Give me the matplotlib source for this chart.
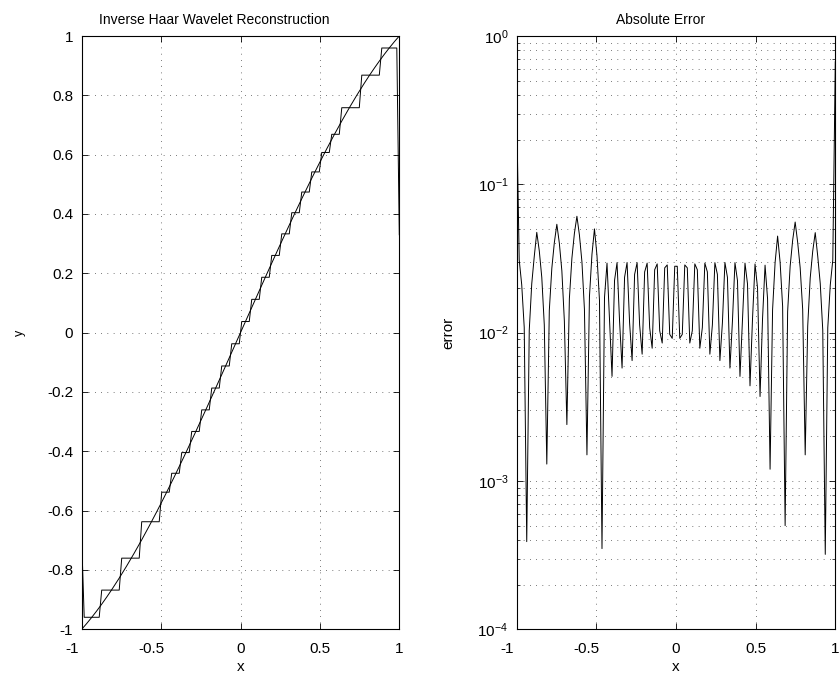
import numpy as np
import matplotlib
matplotlib.use("Agg")
import matplotlib.pyplot as plt
from matplotlib.transforms import ScaledTranslation

# ---------------- data ----------------
n_samples = 128
# original function value at the 64 positive sample points (odd function; negative half mirrored)
true_curve_pos = [0.00945, 0.02834, 0.04723, 0.06611, 0.08497, 0.10381, 0.12262, 0.14140,
                  0.16015, 0.17886, 0.19752, 0.21614, 0.23469, 0.25320, 0.27163, 0.29000,
                  0.30830, 0.32652, 0.34466, 0.36271, 0.38067, 0.39854, 0.41630, 0.43396,
                  0.45151, 0.46894, 0.48625, 0.50344, 0.52050, 0.53743, 0.55422, 0.57086,
                  0.58736, 0.60370, 0.61989, 0.63592, 0.65178, 0.66747, 0.68298, 0.69832,
                  0.71347, 0.72842, 0.74319, 0.75775, 0.77212, 0.78627, 0.80021, 0.81393,
                  0.82743, 0.84070, 0.85373, 0.86654, 0.87910, 0.89141, 0.90348, 0.91528,
                  0.92684, 0.93811, 0.94913, 0.95987, 0.97034, 0.98052, 0.99041, 1.00000]
# Haar reconstruction: block lengths (in samples) and block levels
block_sizes = [8, 8, 8, 8] + [4] * 18 + [8, 8, 8]
block_levels = [-0.95948, -0.86784, -0.76015, -0.63742,
                -0.53778, -0.47401, -0.40431, -0.33300, -0.26036, -0.18671,
                -0.11232, -0.03749, 0.03749, 0.11232, 0.18671, 0.26036,
                0.33300, 0.40431, 0.47401, 0.54181, 0.60741, 0.66867,
                0.75825, 0.86804, 0.95955]
end_values = [-0.70, 0.33]          # reconstruction at x=-1 and x=1 (boundary effect)

left_yticks = [-1, -0.8, -0.6, -0.4, -0.2, 0, 0.2, 0.4, 0.6, 0.8, 1]
left_yticklabels = ['-1', '-0.8', '-0.6', '-0.4', '-0.2', '0', '0.2', '0.4', '0.6', '0.8', '1']
xticks = [-1, -0.5, 0, 0.5, 1]
xticklabels = ['-1', '-0.5', '0', '0.5', '1']
log_ticks = [1e-4, 1e-3, 1e-2, 1e-1, 1e0]
log_ticklabels = ['$10^{-4}$', '$10^{-3}$', '$10^{-2}$', '$10^{-1}$', '$10^{0}$']

family = 'Liberation Sans'
plt.rcParams['font.family'] = [family, 'DejaVu Sans']
plt.rcParams['mathtext.fontset'] = 'custom'
plt.rcParams['mathtext.rm'] = family
plt.rcParams['mathtext.it'] = family
plt.rcParams['axes.unicode_minus'] = False

x = np.linspace(-1, 1, n_samples)
pos = np.array(true_curve_pos)
f = np.concatenate([-pos[::-1], pos])
recon = np.repeat(block_levels, block_sizes).astype(float)
recon[0] = end_values[0]
recon[-1] = end_values[1]
err = np.abs(f - recon)

W, H = 840, 677
fig = plt.figure(figsize=(W / 100, H / 100), dpi=100)
ax1 = fig.add_axes([81.7 / W, 1 - 629.3 / H, (399.3 - 81.7) / W, (629.3 - 36) / H])
ax2 = fig.add_axes([516.7 / W, 1 - 629.3 / H, (835.3 - 516.7) / W, (629.3 - 36) / H])

grid_kw = dict(color='k', linestyle=(0, (1, 8)), linewidth=0.5)

# left
ax1.plot(x, recon, color='k', lw=0.7)
ax1.plot(x, f, color='k', lw=0.7)
ax1.set_xlim(-1, 1)
ax1.set_ylim(-1, 1)
ax1.set_xticks(xticks)
ax1.set_xticklabels(xticklabels)
ax1.set_yticks(left_yticks)
ax1.set_yticklabels(left_yticklabels)
ax1.grid(True, **grid_kw)
t1 = ax1.set_title('Inverse Haar Wavelet Reconstruction', fontsize=10, pad=9)
t1.set_x(0.418)
ax1.set_xlabel('x', fontsize=11, labelpad=2.5)
ax1.set_ylabel('y', fontsize=9, labelpad=15)

# right
ax2.semilogy(x, err, color='k', lw=0.7)
ax2.set_xlim(-1, 1)
ax2.set_ylim(1e-4, 1e0)
ax2.set_xticks(xticks)
ax2.set_xticklabels(xticklabels)
ax2.set_yticks(log_ticks)
ax2.set_yticklabels(log_ticklabels)
ax2.grid(True, which='both', **grid_kw)
t2 = ax2.set_title('Absolute Error', fontsize=10, pad=9)
t2.set_x(0.45)
ax2.set_xlabel('x', fontsize=11, labelpad=2.5)
ax2.set_ylabel('error', fontsize=11, labelpad=16)

for ax in (ax1, ax2):
    ax.tick_params(direction='in', top=True, right=True, length=4, width=0.6,
                   labelsize=11, pad=6)
    ax.tick_params(axis='x', pad=9.5)
    ax.tick_params(which='minor', direction='in', top=True, right=True, length=2, width=0.5)
    for s in ax.spines.values():
        s.set_linewidth(0.8)
    ax.set_axisbelow(True)
    # negative x tick labels sit slightly left of their ticks in the original
    shift = ScaledTranslation(-10 / 100, 0, fig.dpi_scale_trans)
    for lab in ax.get_xticklabels():
        if lab.get_text().startswith('-'):
            lab.set_transform(lab.get_transform() + shift)

fig.savefig('out.png', dpi=100)
